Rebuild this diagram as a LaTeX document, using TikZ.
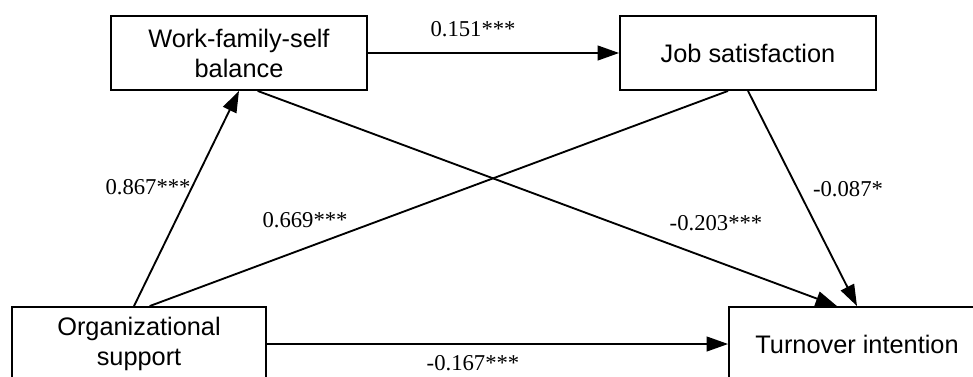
\documentclass[tikz,border=0pt]{standalone}
\usepackage{fontspec}
\setmainfont{Liberation Serif}
\setsansfont{Liberation Sans}
\usetikzlibrary{arrows.meta}
\begin{document}
\begin{tikzpicture}[x=0.75pt, y=-0.75pt, line width=1.4pt,
    var/.style={draw, fill=white, minimum width=192pt, minimum height=55.5pt, align=center,
        font=\sffamily\fontsize{19}{22.5}\selectfont},
    coef/.style={inner sep=1pt, font=\fontsize{17}{19}\selectfont},
    path/.style={-{Triangle[length=16pt, width=11pt]}}]
    \useasboundingbox (0,0) rectangle (973,376);
    \node[var] (wfs) at (239,53) {Work-family-self\\balance};
    \node[var] (js) at (748,53) {Job satisfaction};
    \node[var, minimum width=190.5pt] (os) at (139,344) {Organizational\\support};
    \node[var] (ti) at (857,344) {Turnover intention};
    \draw[path] (wfs.east) -- (js.west);
    \draw[path] ([xshift=-3.75pt]os.north) -- (wfs.south);
    \draw ([xshift=8pt]os.north) -- ([xshift=-15pt]js.south);
    \draw[path] ([xshift=14pt]wfs.south) -- ([xshift=-15pt]ti.north);
    \draw[path] (js.south) -- (ti.north);
    \draw[path] (os.east) -- (ti.west);
    \node[coef] (b1) at (473,29) {0.151***};
    \node[coef] (b2) at (148,187) {0.867***};
    \node[coef] (b3) at (305,220) {0.669***};
    \node[coef] (b4) at (716,223) {-0.203***};
    \node[coef] (b5) at (848,189) {-0.087*};
    \node[coef] (b6) at (473,363) {-0.167***};
\end{tikzpicture}
\end{document}
